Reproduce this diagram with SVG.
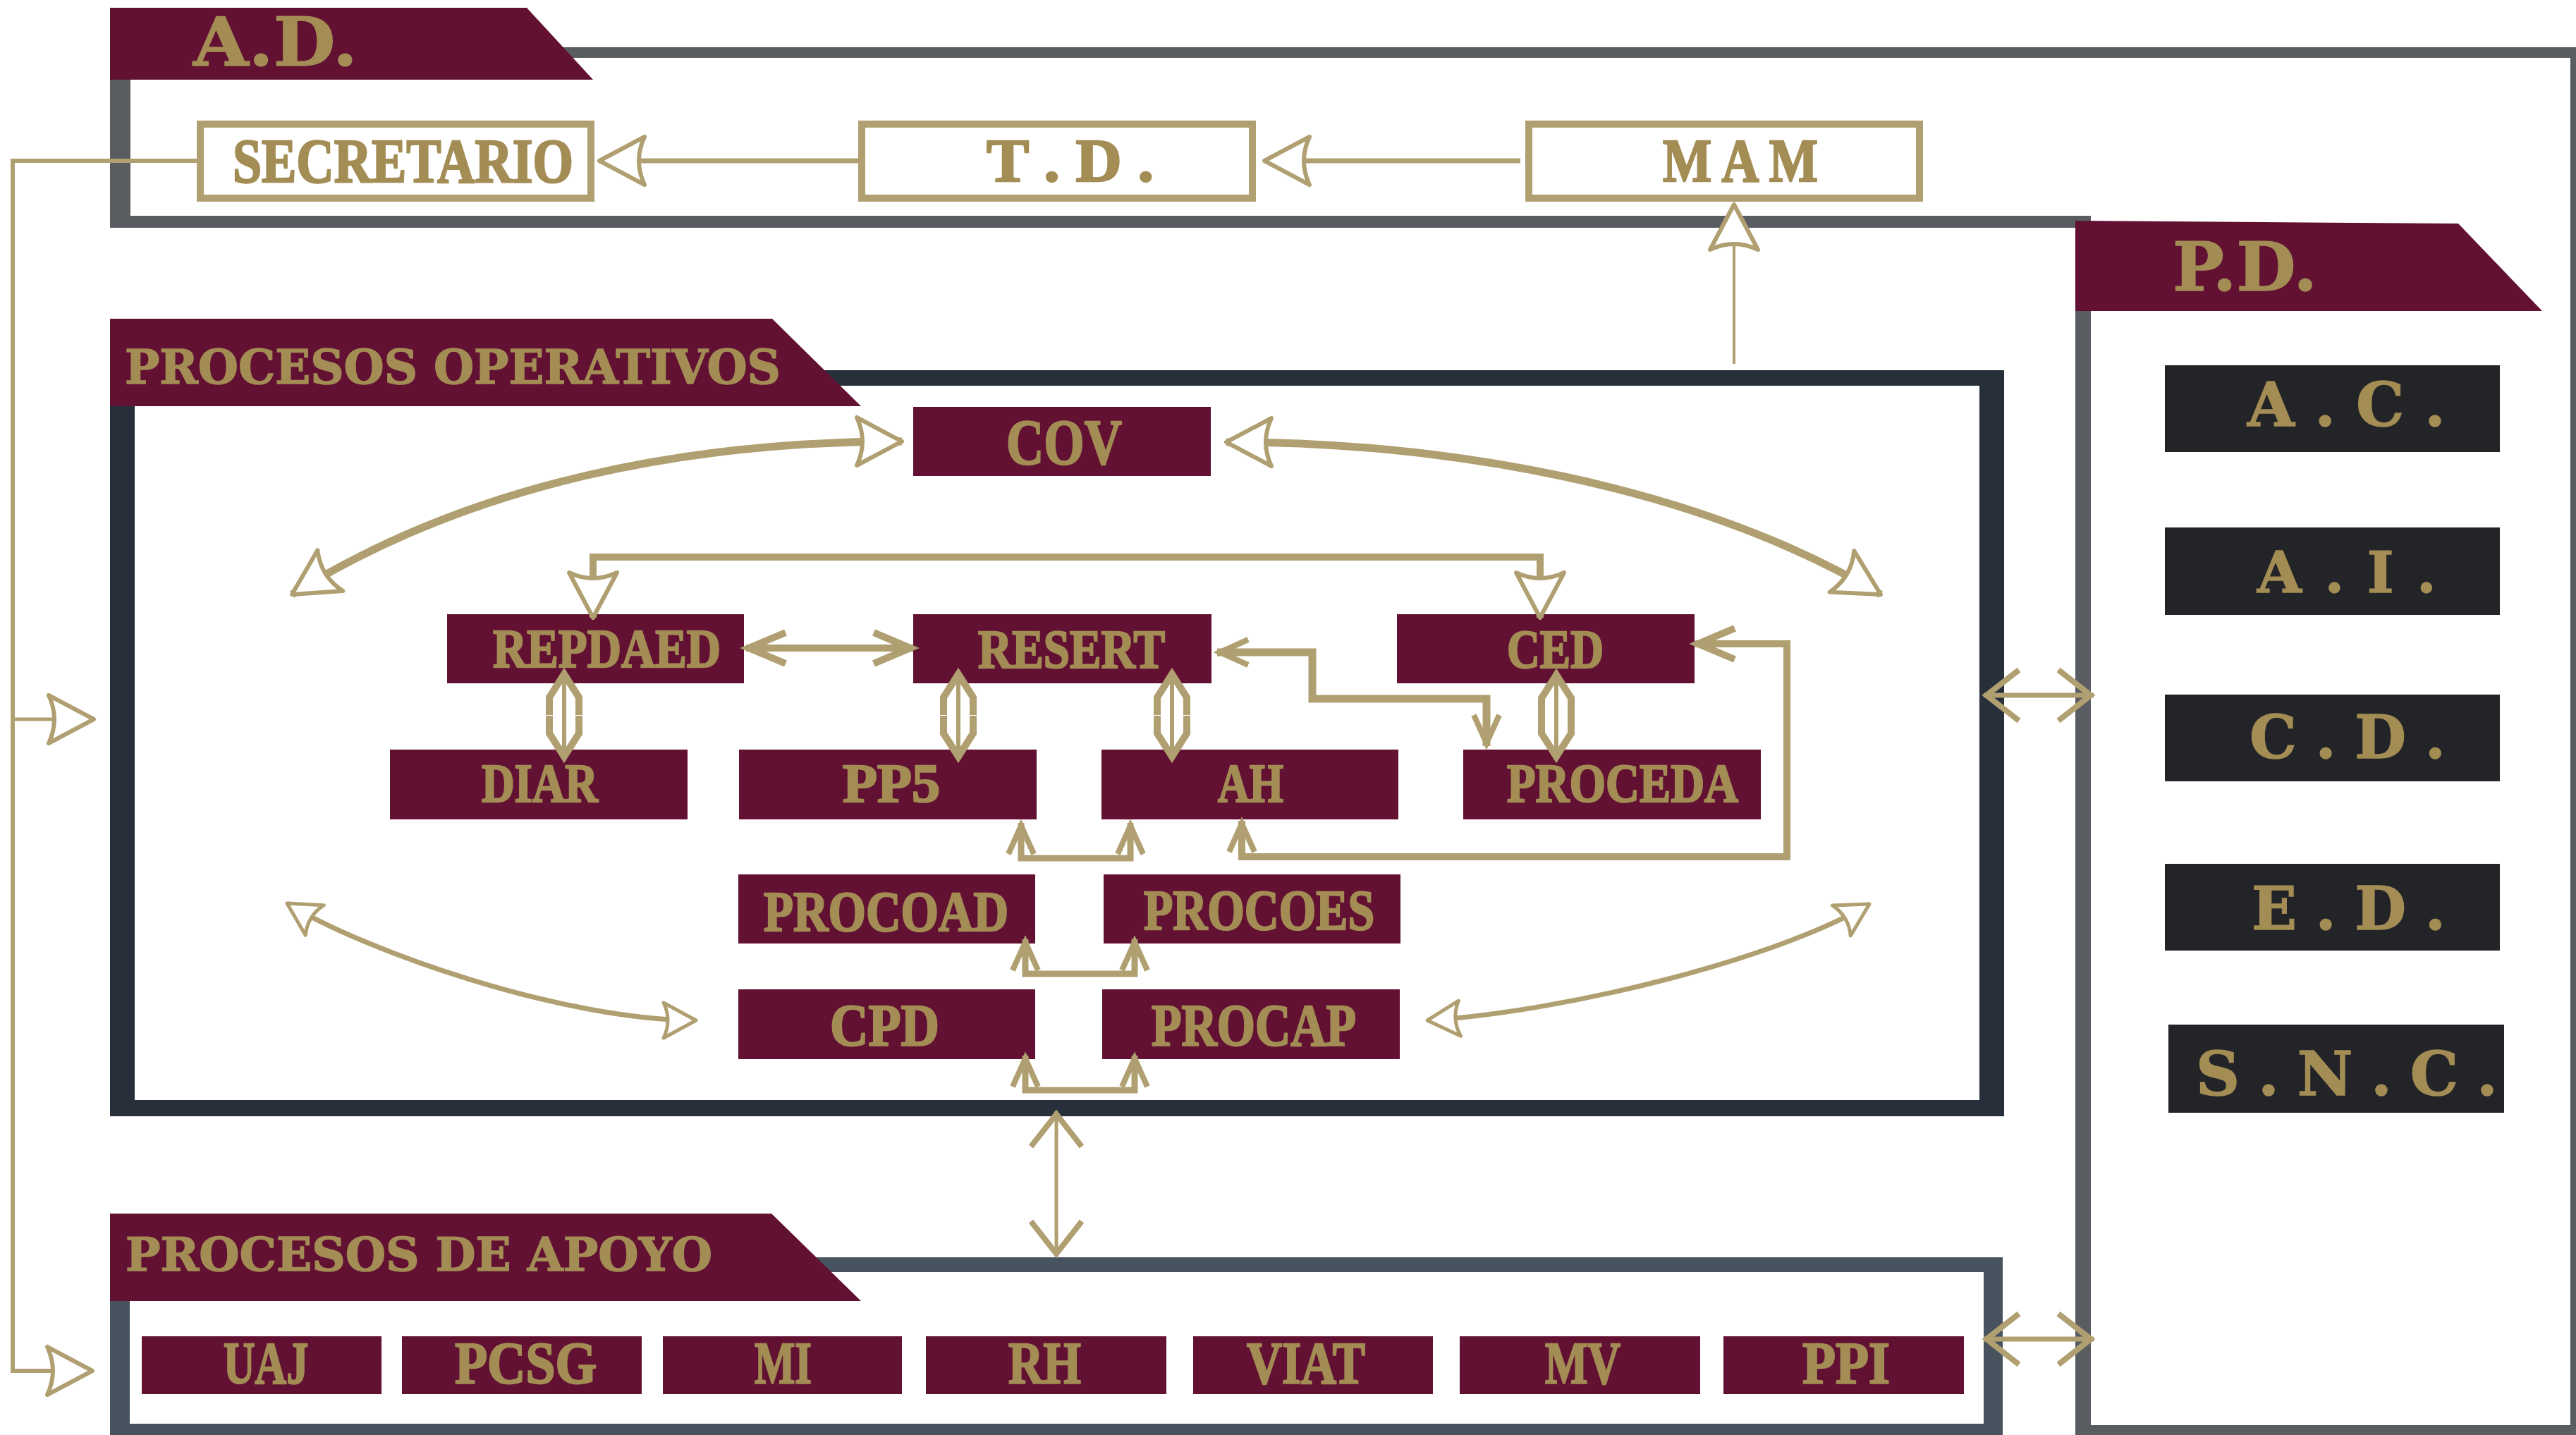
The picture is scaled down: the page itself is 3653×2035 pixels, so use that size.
<svg xmlns="http://www.w3.org/2000/svg" width="3653" height="2035" viewBox="0 0 3653 2035">
<style>
.mar{fill:#621132}
.dk{fill:#232427}
.lbl{font-family:"Liberation Serif","DejaVu Serif",serif;font-weight:bold;fill:#a38d55;stroke:#a38d55;stroke-width:2.5}
.hdr{font-family:"DejaVu Serif","Liberation Serif",serif;font-weight:bold;fill:#a38d55;stroke:#a38d55;stroke-width:1.5}
.ob{fill:#fff;stroke:#b09f70;stroke-width:10}
.ln{fill:none;stroke:#b09f70}
</style>
<defs>
<marker id="st" markerUnits="userSpaceOnUse" orient="auto-start-reverse" overflow="visible" markerWidth="10" markerHeight="10" refX="0" refY="0">
<path d="M0,0 L-64,-34 Q-48,0 -64,34 Z" fill="#fff" stroke="#b09f70" stroke-width="6" stroke-linejoin="round"/>
</marker>
<marker id="sts" markerUnits="userSpaceOnUse" orient="auto-start-reverse" overflow="visible" markerWidth="10" markerHeight="10" refX="0" refY="0">
<path d="M0,0 L-46,-25 Q-34,0 -46,25 Z" fill="#fff" stroke="#b09f70" stroke-width="5" stroke-linejoin="round"/>
</marker>
<marker id="cvA" markerUnits="userSpaceOnUse" orient="auto-start-reverse" overflow="visible" markerWidth="10" markerHeight="10" refX="4" refY="0">
<path d="M-52,-22 L0,0 L-52,22" fill="none" stroke="#b09f70" stroke-width="10"/>
</marker>
<marker id="cvB" markerUnits="userSpaceOnUse" orient="auto-start-reverse" overflow="visible" markerWidth="10" markerHeight="10" refX="4" refY="0">
<path d="M-46,-36 L0,0 L-46,36" fill="none" stroke="#b09f70" stroke-width="8"/>
</marker>
<marker id="cvC" markerUnits="userSpaceOnUse" orient="auto-start-reverse" overflow="visible" markerWidth="10" markerHeight="10" refX="4" refY="0">
<path d="M-40,-18 L0,0 L-40,18" fill="none" stroke="#b09f70" stroke-width="8"/>
</marker>
<marker id="cvD" markerUnits="userSpaceOnUse" orient="auto-start-reverse" overflow="visible" markerWidth="10" markerHeight="10" refX="4" refY="0">
<path d="M-58,-21 L-33,-21 L0,0 L-33,21 L-58,21" fill="none" stroke="#b09f70" stroke-width="10"/>
</marker>
</defs>
<rect width="3653" height="2035" fill="#fff"/>

<!-- frames -->
<g id="frames">
<g id="frame-ad-pd" fill="#595d62">
<rect x="156" y="67" width="3497" height="15"/>
<rect x="156" y="67" width="29" height="256"/>
<rect x="156" y="306" width="2809" height="17"/>
<rect x="3645" y="67" width="8" height="1968"/>
<rect x="2943" y="306" width="22" height="1729"/>
<rect x="2943" y="2021" width="710" height="14"/>
</g>
<path id="frame-po" fill="#27303a" fill-rule="evenodd" d="M156,525 H2842 V1583 H156 Z M191,547 V1560 H2807 V547 Z"/>
<path id="frame-pa" fill="#47535f" fill-rule="evenodd" d="M156,1783 H2840 V2035 H156 Z M184,1804 V2019 H2813 V1804 Z"/>
</g>

<!-- banners -->
<g id="banner-ad">
<polygon class="mar" points="156,11 747,11 841,113 156,113"/>
<text class="hdr" x="274" y="93" font-size="95" textLength="233" lengthAdjust="spacingAndGlyphs">A.D.</text>
</g>
<g id="banner-po">
<polygon class="mar" points="156,452 1095,452 1221,576 156,576"/>
<text class="hdr" x="177" y="544" font-size="67" textLength="930" lengthAdjust="spacingAndGlyphs">PROCESOS OPERATIVOS</text>
</g>
<g id="banner-pa">
<polygon class="mar" points="156,1721 1094,1721 1221,1845 156,1845"/>
<text class="hdr" x="178" y="1802" font-size="66" textLength="832" lengthAdjust="spacingAndGlyphs">PROCESOS DE APOYO</text>
</g>
<g id="banner-pd">
<polygon class="mar" points="2943,313 3486,317 3605,441 2943,441"/>
<text class="hdr" x="3081" y="412" font-size="95" textLength="205" lengthAdjust="spacingAndGlyphs">P.D.</text>
</g>

<!-- A.D. nodes -->
<g id="n-secretario"><rect class="ob" x="284" y="176" width="554" height="105"/><text class="lbl" x="330" y="258" font-size="88" textLength="483" lengthAdjust="spacingAndGlyphs">SECRETARIO</text></g>
<g id="n-td"><rect class="ob" x="1222" y="176" width="554" height="105"/><text class="lbl" x="1399" y="257" font-size="87" textLength="237" lengthAdjust="spacingAndGlyphs">T . D .</text></g>
<g id="n-mam"><rect class="ob" x="2168" y="176" width="554" height="105"/><text class="lbl" x="2358" y="257" font-size="87" textLength="220" lengthAdjust="spacingAndGlyphs">M A M</text></g>

<!-- P.D. nodes -->
<g id="n-ac"><rect class="dk" x="3070" y="518" width="475" height="123"/><text class="hdr" x="3187" y="604" font-size="86" textLength="281" lengthAdjust="spacing">A . C .</text></g>
<g id="n-ai"><rect class="dk" x="3070" y="748" width="475" height="124"/><text class="hdr" x="3201" y="840" font-size="81" textLength="254" lengthAdjust="spacing">A . I .</text></g>
<g id="n-cd"><rect class="dk" x="3070" y="985" width="475" height="123"/><text class="hdr" x="3190" y="1075" font-size="84" textLength="278" lengthAdjust="spacing">C . D .</text></g>
<g id="n-ed"><rect class="dk" x="3070" y="1225" width="475" height="123"/><text class="hdr" x="3193" y="1318" font-size="84" textLength="275" lengthAdjust="spacing">E . D .</text></g>
<g id="n-snc"><rect class="dk" x="3075" y="1453" width="476" height="125"/><text class="hdr" x="3114" y="1553" font-size="86" textLength="428" lengthAdjust="spacing">S . N . C .</text></g>

<!-- Procesos operativos nodes -->
<g id="n-cov"><rect class="mar" x="1295" y="577" width="422" height="98"/><text class="lbl" x="1427" y="658" font-size="92" textLength="164" lengthAdjust="spacingAndGlyphs">COV</text></g>
<g id="n-repdaed"><rect class="mar" x="634" y="871" width="421" height="98"/><text class="lbl" x="699" y="946" font-size="78" textLength="323" lengthAdjust="spacingAndGlyphs">REPDAED</text></g>
<g id="n-resert"><rect class="mar" x="1295" y="871" width="423" height="98"/><text class="lbl" x="1387" y="947" font-size="78" textLength="265" lengthAdjust="spacingAndGlyphs">RESERT</text></g>
<g id="n-ced"><rect class="mar" x="1981" y="871" width="422" height="98"/><text class="lbl" x="2137" y="947" font-size="78" textLength="137" lengthAdjust="spacingAndGlyphs">CED</text></g>
<g id="n-diar"><rect class="mar" x="553" y="1063" width="422" height="99"/><text class="lbl" x="683" y="1137" font-size="78" textLength="165" lengthAdjust="spacingAndGlyphs">DIAR</text></g>
<g id="n-pp5"><rect class="mar" x="1048" y="1063" width="422" height="99"/><text class="lbl" x="1195" y="1137" font-size="78" textLength="138" lengthAdjust="spacingAndGlyphs">PP5</text></g>
<g id="n-ah"><rect class="mar" x="1562" y="1063" width="421" height="99"/><text class="lbl" x="1727" y="1137" font-size="78" textLength="93" lengthAdjust="spacingAndGlyphs">AH</text></g>
<g id="n-proceda"><rect class="mar" x="2075" y="1063" width="422" height="99"/><text class="lbl" x="2137" y="1137" font-size="78" textLength="328" lengthAdjust="spacingAndGlyphs">PROCEDA</text></g>
<g id="n-procoad"><rect class="mar" x="1047" y="1240" width="421" height="98"/><text class="lbl" x="1083" y="1320" font-size="80" textLength="347" lengthAdjust="spacingAndGlyphs">PROCOAD</text></g>
<g id="n-procoes"><rect class="mar" x="1565" y="1240" width="421" height="98"/><text class="lbl" x="1622" y="1318" font-size="80" textLength="327" lengthAdjust="spacingAndGlyphs">PROCOES</text></g>
<g id="n-cpd"><rect class="mar" x="1047" y="1403" width="421" height="99"/><text class="lbl" x="1177" y="1483" font-size="84" textLength="155" lengthAdjust="spacingAndGlyphs">CPD</text></g>
<g id="n-procap"><rect class="mar" x="1563" y="1403" width="422" height="99"/><text class="lbl" x="1633" y="1483" font-size="84" textLength="290" lengthAdjust="spacingAndGlyphs">PROCAP</text></g>

<!-- Procesos de apoyo nodes -->
<g id="n-uaj"><rect class="mar" x="201" y="1895" width="340" height="82"/><text class="lbl" x="317" y="1962" font-size="84" textLength="120" lengthAdjust="spacingAndGlyphs">UAJ</text></g>
<g id="n-pcsg"><rect class="mar" x="570" y="1895" width="340" height="82"/><text class="lbl" x="645" y="1962" font-size="84" textLength="201" lengthAdjust="spacingAndGlyphs">PCSG</text></g>
<g id="n-mi"><rect class="mar" x="940" y="1895" width="339" height="82"/><text class="lbl" x="1070" y="1962" font-size="84" textLength="81" lengthAdjust="spacingAndGlyphs">MI</text></g>
<g id="n-rh"><rect class="mar" x="1313" y="1895" width="341" height="82"/><text class="lbl" x="1430" y="1962" font-size="84" textLength="103" lengthAdjust="spacingAndGlyphs">RH</text></g>
<g id="n-viat"><rect class="mar" x="1692" y="1895" width="340" height="82"/><text class="lbl" x="1768" y="1962" font-size="84" textLength="168" lengthAdjust="spacingAndGlyphs">VIAT</text></g>
<g id="n-mv"><rect class="mar" x="2070" y="1895" width="341" height="82"/><text class="lbl" x="2191" y="1962" font-size="84" textLength="107" lengthAdjust="spacingAndGlyphs">MV</text></g>
<g id="n-ppi"><rect class="mar" x="2444" y="1895" width="341" height="82"/><text class="lbl" x="2556" y="1962" font-size="84" textLength="124" lengthAdjust="spacingAndGlyphs">PPI</text></g>

<!-- connectors -->
<g id="connectors">
<path class="ln" stroke-width="7" d="M2156,228 L1793,228" marker-end="url(#st)"/>
<path class="ln" stroke-width="7" d="M1217,228 L850,228" marker-end="url(#st)"/>
<path class="ln" stroke-width="6" d="M279,228 L18,228 L18,1944 L131,1944" marker-end="url(#st)"/>
<path class="ln" stroke-width="5" d="M18,1020 L133,1020" marker-end="url(#st)"/>
<path class="ln" stroke-width="4" d="M2459,516 L2459,290" marker-end="url(#st)"/>
<path class="ln" stroke-width="11" d="M414,843 C671,683 979,626 1279,626" marker-start="url(#st)" marker-end="url(#st)"/>
<path class="ln" stroke-width="11" d="M1739,627 C2039,627 2397,683 2667,843" marker-start="url(#st)" marker-end="url(#st)"/>
<path class="ln" stroke-width="7" d="M407,1281 C520,1350 800,1447 987,1447" marker-start="url(#sts)" marker-end="url(#sts)"/>
<path class="ln" stroke-width="7" d="M2024,1447 C2220,1435 2520,1360 2651,1282" marker-start="url(#sts)" marker-end="url(#sts)"/>
<path class="ln" stroke-width="10" d="M841,876 L841,790 L2184,790 L2184,876" marker-start="url(#st)" marker-end="url(#st)"/>
<path class="ln" stroke-width="10" d="M1058,919 L1295,919" marker-start="url(#cvA)" marker-end="url(#cvA)"/>
<path class="ln" stroke-width="6" d="M800,952 L800,1077" marker-start="url(#cvD)" marker-end="url(#cvD)"/>
<path class="ln" stroke-width="6" d="M1359,952 L1359,1077" marker-start="url(#cvD)" marker-end="url(#cvD)"/>
<path class="ln" stroke-width="6" d="M1662,952 L1662,1077" marker-start="url(#cvD)" marker-end="url(#cvD)"/>
<path class="ln" stroke-width="6" d="M2207,953 L2207,1077" marker-start="url(#cvD)" marker-end="url(#cvD)"/>
<path class="ln" stroke-width="11" d="M1726,925 L1861,925 L1861,991 L2108,991 L2108,1058" marker-start="url(#cvC)" marker-end="url(#cvC)"/>
<path class="ln" stroke-width="10" d="M1761,1164 L1761,1215 L2534,1215 L2534,913 L2404,913" marker-start="url(#cvC)" marker-end="url(#cvA)"/>
<path class="ln" stroke-width="9" d="M1448,1167 L1448,1217 L1603,1217 L1603,1167" marker-start="url(#cvC)" marker-end="url(#cvC)"/>
<path class="ln" stroke-width="9" d="M1454,1332 L1454,1381 L1609,1381 L1609,1332" marker-start="url(#cvC)" marker-end="url(#cvC)"/>
<path class="ln" stroke-width="9" d="M1454,1497 L1454,1546 L1609,1546 L1609,1497" marker-start="url(#cvC)" marker-end="url(#cvC)"/>
<path class="ln" stroke-width="5" d="M1498,1576 L1498,1782" marker-start="url(#cvB)" marker-end="url(#cvB)"/>
<path class="ln" stroke-width="7" d="M2813,986 L2969,986" marker-start="url(#cvB)" marker-end="url(#cvB)"/>
<path class="ln" stroke-width="7" d="M2813,1899 L2969,1899" marker-start="url(#cvB)" marker-end="url(#cvB)"/>
</g>
</svg>
